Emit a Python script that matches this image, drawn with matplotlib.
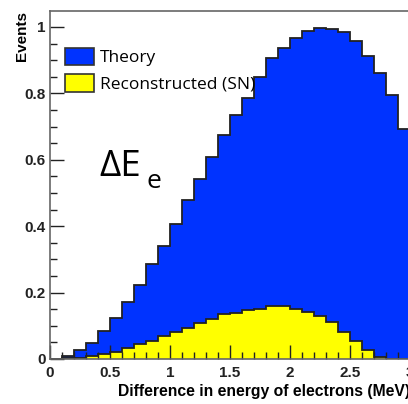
import numpy as np
import matplotlib
matplotlib.use("Agg")
import matplotlib.pyplot as plt
from matplotlib.patches import Patch

# bin edges in MeV (0.1 wide)
edges = np.round(np.arange(0, 3.01, 0.1), 2)

theory = [0.0, 0.010, 0.027, 0.049, 0.084, 0.122, 0.173, 0.224, 0.285, 0.340,
          0.407, 0.479, 0.541, 0.609, 0.675, 0.735, 0.785, 0.848, 0.906, 0.938,
          0.968, 0.989, 0.998, 0.993, 0.984, 0.959, 0.911, 0.861, 0.795, 0.692]
reco = [0.0, 0.002, 0.004, 0.010, 0.015, 0.022, 0.032, 0.044, 0.055, 0.069,
        0.082, 0.093, 0.107, 0.121, 0.135, 0.138, 0.148, 0.152, 0.159, 0.160,
        0.150, 0.143, 0.130, 0.110, 0.082, 0.054, 0.027, 0.007, 0.001, 0.0]

xticks = [0, 0.5, 1, 1.5, 2, 2.5, 3]
xticklabels = ['0', '0.5', '1', '1.5', '2', '2.5', '3']
yticks = [0, 0.2, 0.4, 0.6, 0.8, 1.0]
yticklabels = ['0', '0.2', '0.4', '0.6', '0.8', '1']

blue = '#0033ff'
yellow = '#ffff00'
edge = '#222222'

W, H = 408, 404
fig = plt.figure(figsize=(W/100, H/100), dpi=100)
# axes extend a little past the right edge (picture is cropped there)
ax = fig.add_axes([50/W, 45/H, 360/W, 348/H])

ax.stairs(theory, edges, fill=True, color=blue, lw=0)
ax.stairs(theory, edges, color=edge, lw=1.3)
ax.stairs(reco, edges, fill=True, color=yellow, lw=0)
ax.stairs(reco, edges, color=edge, lw=1.3)

ax.set_xlim(0, 3.0)
ax.set_ylim(0, 1.048)

bold = dict(family='Liberation Sans', weight='bold', size=11)
ax.set_xticks(xticks)
ax.set_xticklabels(xticklabels, fontdict=bold)
ax.set_xticks(np.arange(0, 3.01, 0.1), minor=True)
ax.set_yticks(yticks)
ax.set_yticklabels(yticklabels, fontdict=bold)
ax.set_yticks(np.arange(0, 1.05, 0.05), minor=True)
ax.tick_params(which='both', direction='in', top=False, right=False, colors='#222222')
ax.tick_params(which='major', length=10, width=1)
ax.tick_params(which='minor', length=5, width=1)
ax.tick_params(axis='x', pad=5)
ax.tick_params(axis='y', pad=3)

for s in ax.spines.values():
    s.set_color('#666666')
    s.set_linewidth(1.2)

ax.set_xlabel('Difference in energy of electrons (MeV)', loc='right',
              family='Liberation Sans', weight='bold', size=11.3, labelpad=3)
ax.set_ylabel('Events', loc='top', family='Liberation Sans', weight='bold',
              size=11, labelpad=-3)

handles = [Patch(facecolor=blue, edgecolor='#333333', lw=1.2),
           Patch(facecolor=yellow, edgecolor='#333333', lw=1.2)]
ax.legend(handles, ['Theory', 'Reconstructed (SN)'], loc='upper left',
          bbox_to_anchor=(65/W, 1 - 48/H), bbox_transform=fig.transFigure,
          frameon=False, borderpad=0, borderaxespad=0,
          prop=dict(family='Open Sans', size=12.5),
          handlelength=1.65, handleheight=1.15, handletextpad=0.35,
          labelspacing=0.45)

fig.text(99/W, 1 - 176/H, '\u0394E', family='Open Sans', size=26.5, va='baseline')
fig.text(146/W, 1 - 188/H, 'e', family='Open Sans', size=19, va='baseline')

fig.savefig('out.png', dpi=100)
